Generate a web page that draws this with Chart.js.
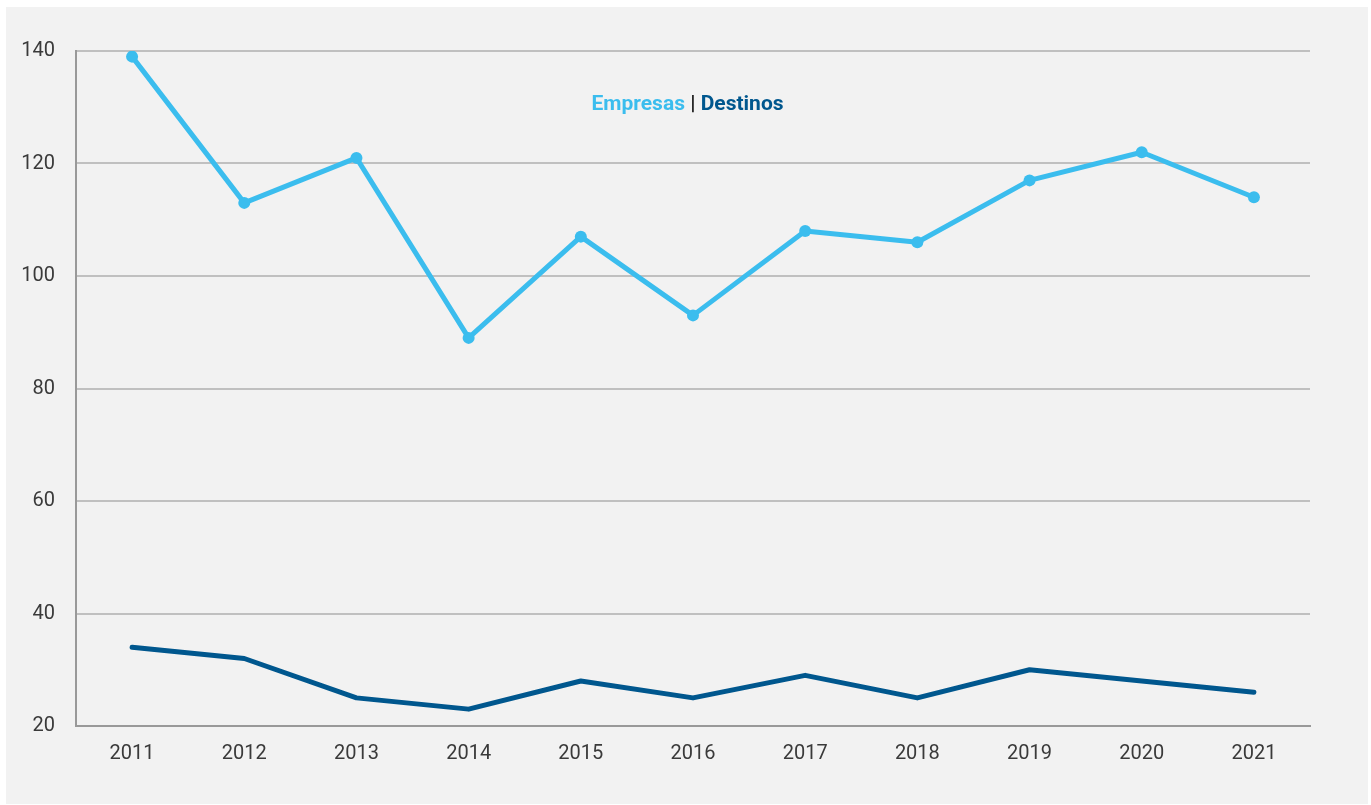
<!DOCTYPE html>
<html>
<head>
<meta charset="utf-8">
<script src="https://cdn.jsdelivr.net/npm/chart.js@4"></script>
<style>
  body { margin: 0; background: #fff; font-family: Roboto, sans-serif; }
  #box { position: absolute; left: 6px; top: 7px; width: 1362px; height: 797px; background: #f2f2f2; }
  #title { position: absolute; left: 0; width: 1375px; top: 91px; text-align: center; font: bold 21px Roboto, sans-serif; color: #222; }
  .emp { color: #3bbdee; }
  .des { color: #00578e; }
</style>
</head>
<body>
<div id="box"><canvas id="chart" width="1362" height="797"></canvas></div>
<div id="title"><span class="emp">Empresas</span> | <span class="des">Destinos</span></div>
<script>
// data
const years = ['2011', '2012', '2013', '2014', '2015', '2016', '2017', '2018', '2019', '2020', '2021'];
const empresas = [139, 113, 121, 89, 107, 93, 108, 106, 117, 122, 114];
const destinos = [34, 32, 25, 23, 28, 25, 29, 25, 30, 28, 26];
const yTicks = [20, 40, 60, 80, 100, 120, 140];

const ctx = document.getElementById('chart').getContext('2d');
new Chart(ctx, {
  type: 'line',
  data: {
    labels: years,
    datasets: [{
      label: 'Empresas',
      data: empresas,
      borderColor: '#3bbdee',
      backgroundColor: '#3bbdee',
      borderWidth: 5,
      pointRadius: 6,
      pointBorderWidth: 0,
      tension: 0,
      borderCapStyle: 'round',
      borderJoinStyle: 'round'
    }, {
      label: 'Destinos',
      data: destinos,
      borderColor: '#00578e',
      backgroundColor: '#00578e',
      borderWidth: 5,
      pointRadius: 0,
      tension: 0,
      borderCapStyle: 'round',
      borderJoinStyle: 'round'
    }]
  },
  options: {
    responsive: false,
    animation: false,
    layout: { padding: { top: 44, right: 58, left: 0, bottom: 0 } },
    plugins: { legend: { display: false }, tooltip: { enabled: false } },
    scales: {
      x: {
        offset: true,
        grid: { display: false, drawTicks: false },
        border: { color: '#999', width: 2 },
        ticks: { color: '#3a3a3a', font: { family: 'Roboto', size: 20 }, padding: 16, maxRotation: 0 },
        afterFit: s => { s.height = 78; }
      },
      y: {
        min: 20,
        max: 140,
        afterBuildTicks: s => { s.ticks = yTicks.map(v => ({ value: v })); },
        grid: { color: '#c0c0c0', lineWidth: 2, drawTicks: false },
        border: { color: '#999', width: 2 },
        ticks: { color: '#3a3a3a', font: { family: 'Roboto', size: 20 }, padding: 21 },
        afterFit: s => { s.width = 70; }
      }
    }
  }
});
</script>
</body>
</html>
